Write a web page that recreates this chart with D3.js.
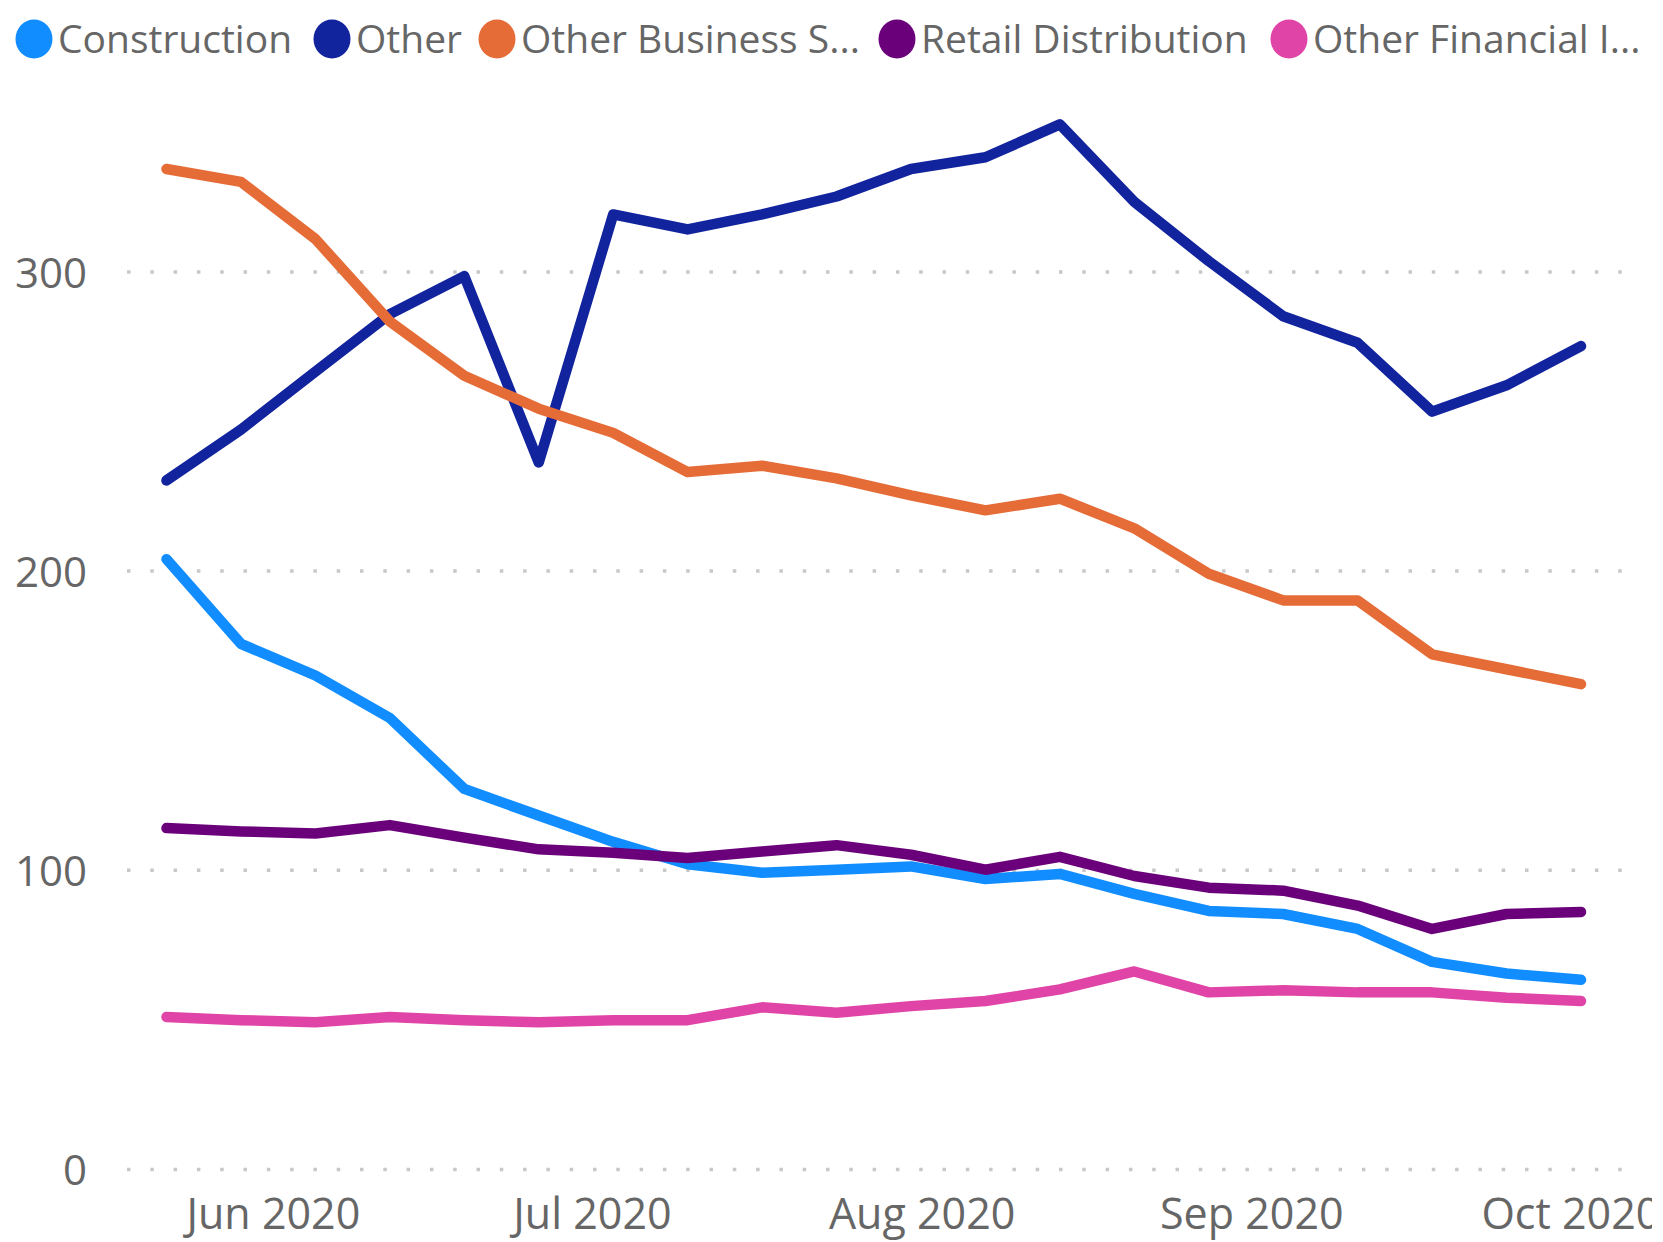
<!DOCTYPE html>
<html>
<head>
<meta charset="utf-8">
<script src="https://cdn.jsdelivr.net/npm/d3@7"></script>
<style>
  html, body { margin: 0; padding: 0; background: #ffffff; }
  svg { display: block; }
  text { font-family: "Open Sans", "Noto Sans", sans-serif; fill: #666666; }
</style>
</head>
<body>
<svg id="chart" width="1652" height="1242"></svg>
<script>
// ---- Data ----
const dates = ["2020-05-22","2020-05-29","2020-06-05","2020-06-12","2020-06-19","2020-06-26",
               "2020-07-03","2020-07-10","2020-07-17","2020-07-24","2020-07-31","2020-08-07",
               "2020-08-14","2020-08-21","2020-08-28","2020-09-04","2020-09-11","2020-09-18",
               "2020-09-25","2020-10-02"];
const seriesNames = ["Construction", "Other", "Other Business Services", "Retail Distribution", "Other Financial Intermediation"];
const legendLabels = ["Construction", "Other", "Other Business S...", "Retail Distribution", "Other Financial I..."];
const colors = ["#118DFF", "#12239E", "#E66C37", "#6B007B", "#E044A7"];
const construction = [204.0,175.7,165.1,150.9,127.2,118.3,109.5,102.0,99.2,100.2,101.3,97.1,98.8,92.1,86.4,85.4,80.4,69.4,65.5,63.4];
const other = [230.3,247.3,266.7,285.9,298.6,236.3,319.2,314.2,319.2,325.2,334.4,338.3,349.3,323.4,303.6,285.2,276.3,253.3,262.1,275.2];
const otherBusiness = [334.4,330.1,311.0,283.4,265.3,254.3,246.2,233.1,235.2,231.0,225.3,220.3,224.2,214.3,199.1,190.2,190.2,172.2,167.2,162.2];
const retail = [114.1,113.0,112.3,115.1,110.9,107.0,105.9,104.1,106.3,108.4,105.2,100.2,104.5,98.1,94.2,93.2,88.2,80.4,85.4,86.1];
const otherFinancial = [51.0,49.9,49.2,51.0,49.9,49.2,49.9,49.9,54.2,52.4,54.6,56.3,60.2,66.2,59.2,59.9,59.2,59.2,57.4,56.3];
const yTicks = [0, 100, 200, 300];
const xTickDates = ["2020-06-01","2020-07-01","2020-08-01","2020-09-01","2020-10-01"];

const allValues = [construction, other, otherBusiness, retail, otherFinancial];

// ---- Layout ----
const svg = d3.select("#chart");
const parse = d3.utcParse("%Y-%m-%d");
const xDates = dates.map(parse);

const x = d3.scaleUtc()
  .domain([xDates[0], xDates[xDates.length - 1]])
  .range([166.5, 1581]);
const y = d3.scaleLinear()
  .domain([0, 350])
  .range([1169.5, 1169.5 - 350 * 2.992]);

const gridLeft = 127, gridRight = 1625;

// Grid lines
const grid = svg.append("g").attr("class", "grid");
grid.selectAll("line").data(yTicks).join("line")
  .attr("x1", gridLeft).attr("x2", gridRight)
  .attr("y1", d => y(d)).attr("y2", d => y(d))
  .attr("stroke", "#C8C8C8")
  .attr("stroke-width", 3.5)
  .attr("stroke-dasharray", "3.5,19.8");

// Y axis
const yAxis = d3.axisLeft(y).tickValues(yTicks).tickSize(0).tickPadding(0);
const yg = svg.append("g").attr("transform", "translate(87,0)").call(yAxis);
yg.select(".domain").remove();
yg.selectAll("text")
  .attr("font-family", "'Open Sans', sans-serif")
  .attr("font-size", 42)
  .attr("fill", "#666666")
  .attr("dy", "0.36em")
  .attr("x", 0);

// X axis
const xAxis = d3.axisBottom(x).tickValues(xTickDates.map(parse))
  .tickFormat(d3.utcFormat("%b %Y")).tickSize(0).tickPadding(0);
const xg = svg.append("g").attr("transform", "translate(0,1229)").call(xAxis);
xg.select(".domain").remove();
xg.selectAll("text")
  .attr("font-family", "'Open Sans', sans-serif")
  .attr("font-size", 43)
  .attr("fill", "#666666")
  .attr("dy", 0)
  .attr("y", 0);

// Lines
const line = d3.line()
  .x((d, i) => x(xDates[i]))
  .y(d => y(d));
svg.append("g").selectAll("path").data(allValues).join("path")
  .attr("d", d => line(d))
  .attr("fill", "none")
  .attr("stroke", (d, i) => colors[i])
  .attr("stroke-width", 10.5)
  .attr("stroke-linecap", "round")
  .attr("stroke-linejoin", "round");

// Legend
const legendX = [34, 332, 497, 897, 1289];
const legend = svg.append("g").attr("class", "legend");
const items = legend.selectAll("g").data(legendLabels).join("g")
  .attr("transform", (d, i) => `translate(${legendX[i]},39)`);
items.append("ellipse").attr("cx", 0).attr("cy", 0).attr("rx", 18.5).attr("ry", 19.5)
  .attr("fill", (d, i) => colors[i]);
items.append("text")
  .attr("x", 24).attr("y", 0).attr("dy", "0.36em")
  .attr("font-size", 39)
  .text(d => d)
  .append("title").text((d, i) => seriesNames[i]);
</script>
</body>
</html>
